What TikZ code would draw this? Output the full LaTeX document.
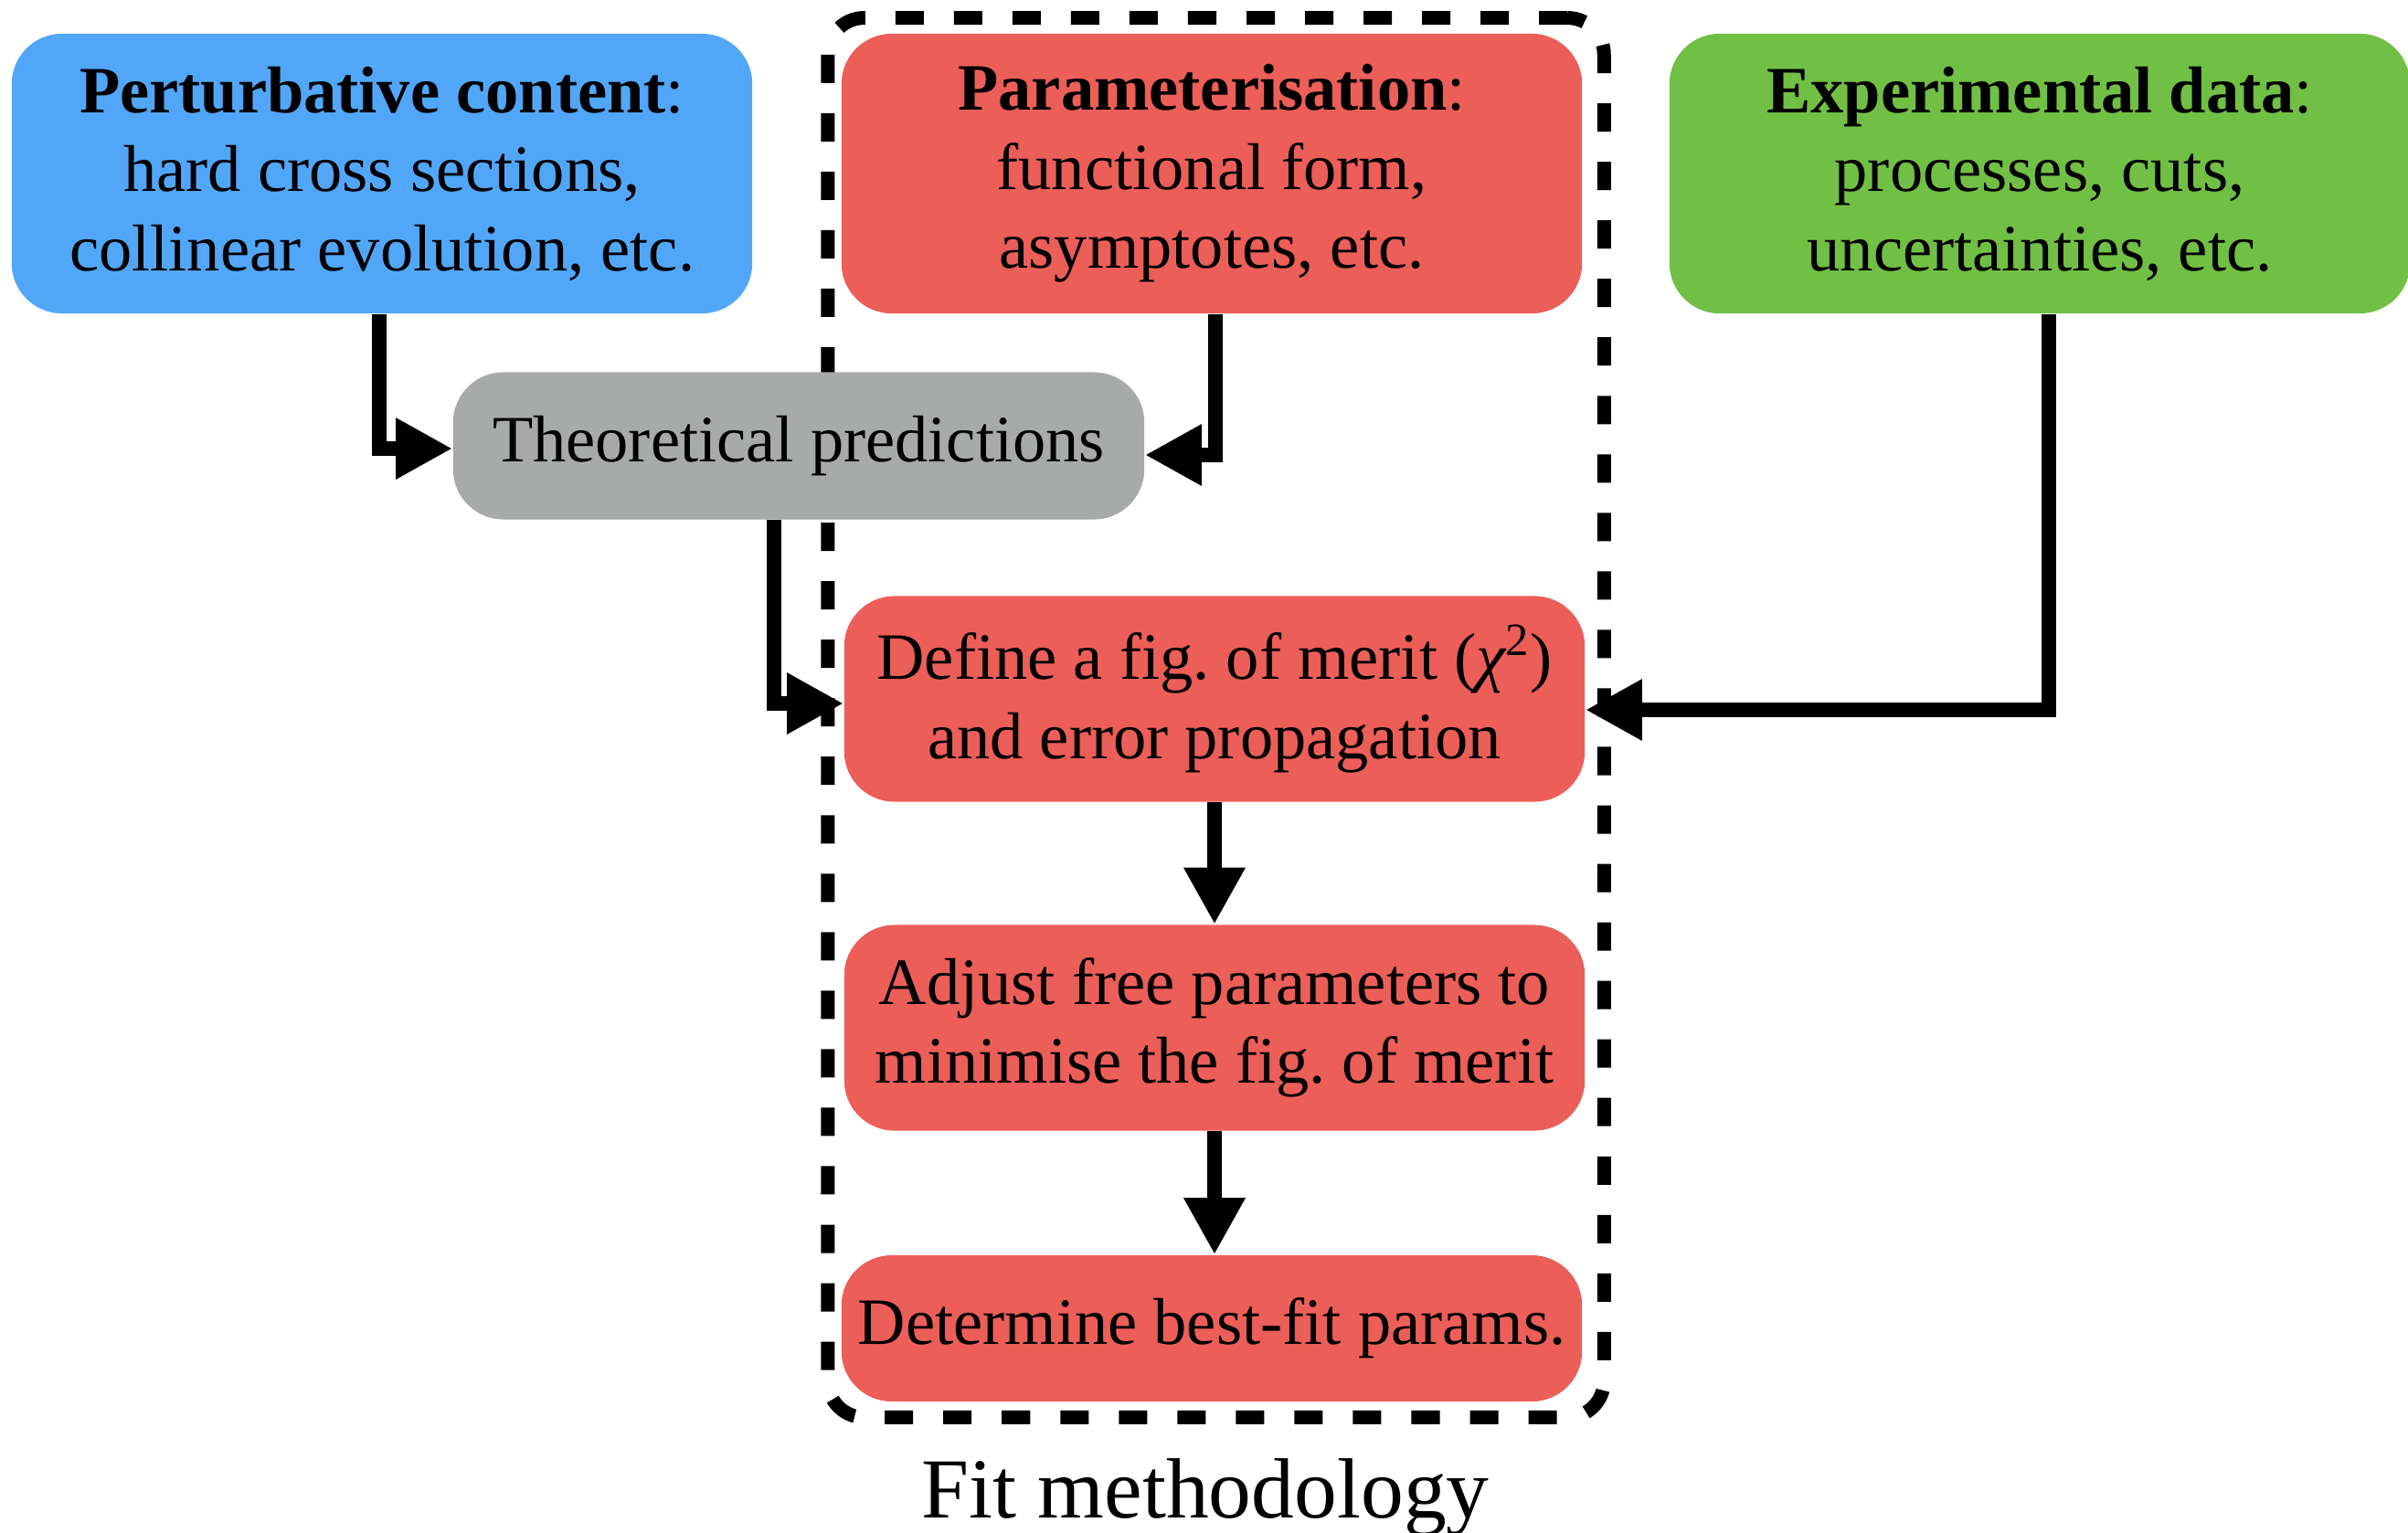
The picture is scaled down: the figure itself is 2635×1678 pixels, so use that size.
\documentclass[tikz,border=0pt]{standalone}
\usepackage{fontspec}
\setmainfont{Liberation Serif}
\usetikzlibrary{arrows.meta,calc}
\definecolor{cblue}{HTML}{52A6F8}
\definecolor{cred}{HTML}{EC5E58}
\definecolor{cgreen}{HTML}{71BF44}
\definecolor{cgray}{HTML}{A7AAA9}
\begin{document}
\begin{tikzpicture}[x=0.01cm,y=-0.01cm,
  box/.style={rectangle, rounded corners=0.55cm, align=center, inner sep=0pt,
              font=\fontsize{20.6}{24.6}\selectfont},
  bigbox/.style={box, minimum width=8.1cm, minimum height=3.06cm},
  stepbox/.style={box, fill=cred, minimum width=8.1cm, minimum height=2.25cm},
  arr/.style={line width=0.155cm, -{Triangle[length=0.62cm,width=0.63cm]}},
  fitframe/.style={draw, line width=0.15cm, dash pattern=on 0.31cm off 0.33cm,
              rounded corners=0.4cm, inner sep=0pt}]
\useasboundingbox (0,0) rectangle (2635,1678);

% dashed frame
\node[fitframe, minimum width=8.49cm, minimum height=15.31cm] (fitbox) at (1330.5,785.5) {};
\node[anchor=base, font=\fontsize{26.6}{32}\selectfont] (fitlabel) at (1319,1661) {Fit methodology};

% top boxes
\node[bigbox, fill=cblue] (pert) at (418,190)
  {\textbf{Perturbative content}:\\hard cross sections,\\collinear evolution, etc.};
\node[bigbox, fill=cred] (param) at (1326,190)
  {\textbf{Parameterisation}:\\functional form,\\asymptotes, etc.};
\node[bigbox, fill=cgreen] (exp) at (2232,190)
  {\textbf{Experimental data}:\\processes, cuts,\\uncertainties, etc.};

% theory
\node[box, fill=cgray, minimum width=7.56cm, minimum height=1.61cm] (theo) at (874,488)
  {Theoretical predictions};

% fit steps
\node[stepbox] (def) at (1329,765)
  {Define a fig.\ of merit ({\itshape χ}\textsuperscript{2})\\and error propagation};
\node[stepbox] (adj) at (1329,1125)
  {Adjust free parameters to\\minimise the fig.\ of merit};
\node[stepbox, minimum height=1.6cm] (det) at (1326,1454)
  {Determine best-fit params.};

% connectors
\draw[arr] ($(pert.south)+(-3,0)$) |- ($(theo.west)+(0,3)$);
\draw[arr] ($(param.south)+(4,0)$) |- ($(theo.east)+(0,10)$);
\draw[arr] ($(theo.south)+(-27,0)$) |- ($(def.west)+(0,5)$);
\draw[arr] ($(exp.south)+(10,0)$) |- ($(def.east)+(0,12)$);
\draw[arr] (def.south) -- (adj.north);
\draw[arr] (adj.south) -- ($(det.north)+(3,0)$);
\end{tikzpicture}
\end{document}
